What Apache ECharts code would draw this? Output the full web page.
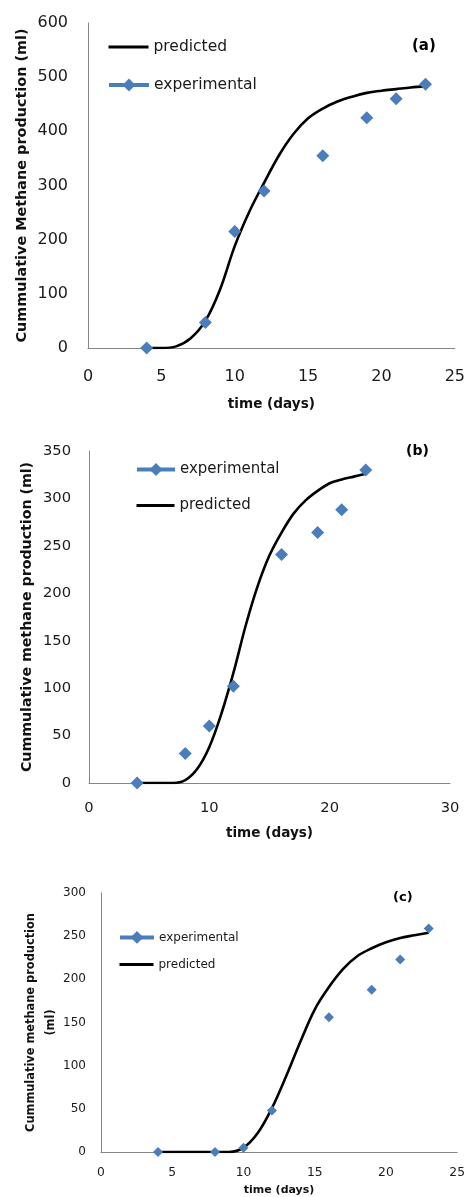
<!DOCTYPE html>
<html>
<head>
    <meta charset="utf-8" />
    <title>Cumulative methane production</title>
    <script src="https://cdn.jsdelivr.net/npm/echarts@6/dist/echarts.min.js"></script>
    <style>
        html, body { margin: 0; padding: 0; background: #fff; }
        #chart { width: 468px; height: 1197px; }
    </style>
</head>
<body>
<div id="chart"></div>
<script>
    // measured days
    const days = [4, 8, 10, 12, 16, 19, 21, 23];
    const expA = [0, 47, 215, 290, 355, 425, 460, 487];
    const expB = [0, 31, 60, 102, 241, 264, 288, 330];
    const expC = [0, 0, 5, 48, 156, 188, 223, 259];

    // model curve
    const curveDays = [4, 5, 6, 7, 8, 9, 10, 11, 12, 13, 14, 15, 16, 17, 18, 19, 20, 21, 22, 23];
    const predA = [0, 0, 3, 18, 50, 108, 188, 252, 305, 355, 395, 424, 442, 455, 464, 471, 475, 478, 481, 483];
    const predB = [0, 0, 0, 0, 3, 15, 38, 73, 116, 165, 207, 240, 264, 284, 298, 308, 316, 320, 323, 326];
    const predC = [0, 0, 0, 0, 0, 0, 5, 22, 51, 88, 128, 165, 191, 212, 227, 236, 243, 248, 251, 254];

    const blue = '#4A7EBB';
    const axisGrey = '#868686';
    const font = 'DejaVu Sans';

    function pairs(xs, ys) {
        return xs.map((x, i) => [x, ys[i]]);
    }

    let chart = echarts.init(document.getElementById('chart'), null, { renderer: 'canvas' });

    function xAxis(idx, max, interval, labelSize, margin, nameSize, nameGap) {
        return {
            gridIndex: idx, type: 'value', min: 0, max: max, interval: interval,
            axisLine: { show: true, onZero: false, lineStyle: { color: axisGrey, width: 1 } },
            axisTick: { show: false },
            splitLine: { show: false },
            axisLabel: { fontFamily: font, fontSize: labelSize, color: '#1a1a1a', margin: margin },
            name: 'time (days)', nameLocation: 'middle', nameGap: nameGap, nameMoveOverlap: false,
            nameTextStyle: { fontFamily: font, fontSize: nameSize, fontWeight: 'bold', color: '#111' }
        };
    }

    function yAxis(idx, max, interval, labelSize, margin, name, nameSize, nameGap, lineHeight) {
        return {
            gridIndex: idx, type: 'value', min: 0, max: max, interval: interval,
            axisLine: { show: true, lineStyle: { color: axisGrey, width: 1 } },
            axisTick: { show: false },
            splitLine: { show: false },
            axisLabel: { fontFamily: font, fontSize: labelSize, color: '#1a1a1a', margin: margin },
            name: name, nameLocation: 'middle', nameGap: nameGap, nameMoveOverlap: false,
            nameTextStyle: { fontFamily: font, fontSize: nameSize, fontWeight: 'bold', color: '#111', lineHeight: lineHeight }
        };
    }

    function legend(name, left, top, w, size) {
        const isExp = name === 'experimental';
        return {
            data: [name],
            left: left, top: top, padding: 0,
            itemWidth: w, itemHeight: 16,
            lineStyle: { opacity: 1, width: isExp ? 4 : 3, color: isExp ? blue : '#000' },
            itemStyle: isExp ? { color: blue } : { opacity: 0 },
            textStyle: { fontFamily: font, fontSize: size, color: '#1a1a1a' },
            selectedMode: false
        };
    }

    function expSeries(idx, data, size) {
        return {
            name: 'experimental', type: 'line', xAxisIndex: idx, yAxisIndex: idx,
            data: pairs(days, data), symbol: 'diamond', symbolSize: size,
            itemStyle: { color: blue }, lineStyle: { color: blue, width: 4, opacity: 0 },
            z: 3
        };
    }

    function predSeries(idx, data) {
        return {
            name: 'predicted', type: 'line', xAxisIndex: idx, yAxisIndex: idx,
            data: pairs(curveDays, data), showSymbol: false, symbol: 'none',
            smooth: 0.35,
            itemStyle: { color: '#000' }, lineStyle: { color: '#000', width: 2.6 },
            z: 2
        };
    }

    chart.setOption({
        animation: false,
        backgroundColor: '#fff',
        grid: [
            { left: 88, top: 23, width: 367, height: 325 },
            { left: 89, top: 451, width: 361, height: 332 },
            { left: 101, top: 893, width: 357, height: 259 }
        ],
        title: [
            { text: '(a)', left: 412, top: 39, padding: 0, textStyle: { fontFamily: font, fontSize: 15, fontWeight: 'bold', color: '#000' } },
            { text: '(b)', left: 406, top: 444, padding: 0, textStyle: { fontFamily: font, fontSize: 14, fontWeight: 'bold', color: '#000' } },
            { text: '(c)', left: 393, top: 891, padding: 0, textStyle: { fontFamily: font, fontSize: 13, fontWeight: 'bold', color: '#000' } }
        ],
        legend: [
            legend('predicted', 107, 39, 40, 15.5),
            legend('experimental', 107, 77, 40, 15.5),
            legend('experimental', 135, 462, 38, 15),
            legend('predicted', 135, 498, 38, 15),
            legend('experimental', 118, 931, 34, 12),
            legend('predicted', 118, 958, 34, 12)
        ],
        xAxis: [
            xAxis(0, 25, 5, 16, 21, 13.6, 49),
            xAxis(1, 30, 10, 14.7, 18, 13.6, 43),
            xAxis(2, 25, 5, 12.3, 15, 11, 33)
        ],
        yAxis: [
            yAxis(0, 600, 100, 16, 20, 'Cummulative Methane production (ml)', 14.4, 57, 17),
            yAxis(1, 350, 50, 14.7, 18, 'Cummulative methane production (ml)', 14.2, 53, 17),
            yAxis(2, 300, 50, 12, 15, 'Cummulative methane production\n(ml)', 11.4, 40, 20)
        ],
        series: [
            predSeries(0, predA), expSeries(0, expA, 13),
            expSeries(1, expB, 13), predSeries(1, predB),
            expSeries(2, expC, 10), predSeries(2, predC)
        ]
    });
</script>
</body>
</html>
